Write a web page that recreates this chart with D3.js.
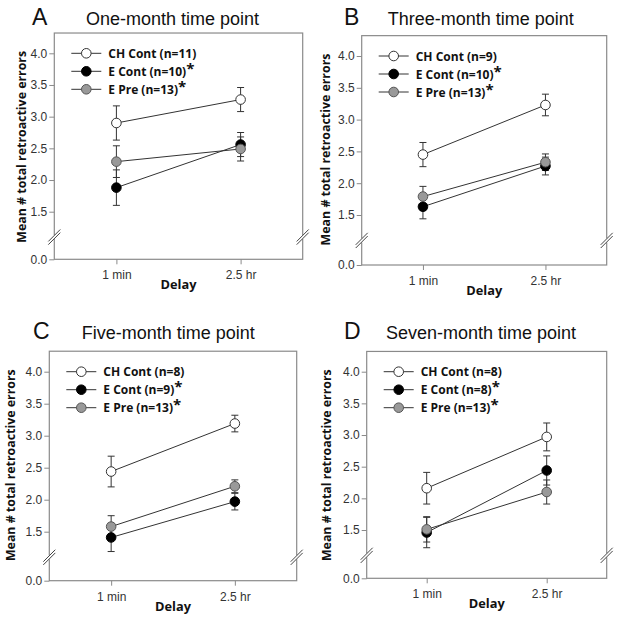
<!DOCTYPE html>
<html><head><meta charset="utf-8">
<script src="https://cdn.jsdelivr.net/npm/d3@7"></script>
<style>body{margin:0;background:#fff}svg{display:block}</style>
</head><body>
<script>
// ---------- data ----------
const panelLetters = ["A", "B", "C", "D"];
const panelTitles = ["One-month time point", "Three-month time point", "Five-month time point", "Seven-month time point"];
const delays = ["1 min", "2.5 hr"];
const groupNames = ["CH Cont", "E Cont", "E Pre"];
const groupStarred = [false, true, true];
const groupN = [[11, 10, 13], [9, 10, 13], [8, 9, 13], [8, 8, 13]];
const chContMean = [[2.90, 3.27], [2.45, 3.23], [2.44, 3.19], [2.16, 2.97]];
const chContErr  = [[0.27, 0.19], [0.19, 0.17], [0.24, 0.13], [0.25, 0.22]];
const eContMean  = [[1.88, 2.56], [1.63, 2.27], [1.41, 1.97], [1.46, 2.44]];
const eContErr   = [[0.28, 0.19], [0.19, 0.14], [0.22, 0.13], [0.24, 0.23]];
const ePreMean   = [[2.29, 2.49], [1.79, 2.33], [1.58, 2.21], [1.51, 2.10]];
const ePreErr    = [[0.25, 0.19], [0.16, 0.13], [0.17, 0.10], [0.20, 0.19]];
const yTicks = [0.0, 1.5, 2.0, 2.5, 3.0, 3.5, 4.0];
const yLabel = "Mean # total retroactive errors";
const xLabel = "Delay";

// ---------- layout / style ----------
const layouts = [
  {left: 54.3, right: 302.7, y40: 53.3, y15: 211.7, y0: 259.3, letterX: 32, titleX: 86, titleY: 25, ylabX: -33},
  {left: 361.7, right: 606.7, y40: 56, y15: 215, y0: 265, letterX: 344, titleX: 387.7, titleY: 25, ylabX: -36.5},
  {left: 49.3, right: 296.7, y40: 371.7, y15: 531.7, y0: 580.7, letterX: 33, titleX: 81.7, titleY: 339.3, ylabX: -39},
  {left: 366.7, right: 606.7, y40: 371.7, y15: 530, y0: 578.3, letterX: 344, titleX: 386, titleY: 339.3, ylabX: -40.5}
];
const groupStyle = [
  {fill: "#ffffff", stroke: "#333333"},
  {fill: "#000000", stroke: "#000000"},
  {fill: "#999999", stroke: "#555555"}
];
const frameColor = "#8a8a8a";
const boldFont = "'Open Sans', Lato, sans-serif";
const plainFont = "'Liberation Sans', Arial, sans-serif";

const svg = d3.select("body").append("svg").attr("width", 621).attr("height", 622);

// size a bold font so that a reference string has a given width
function fitSize(str, target) {
  const t = svg.append("text").attr("font-family", boldFont).attr("font-weight", "bold").attr("font-size", 20).text(str);
  const w = t.node().getComputedTextLength();
  t.remove();
  return 20 * target / w;
}

function draw() {
  const legendSize = fitSize("CH Cont (n=11)", 88);
  const yLabelSize = fitSize(yLabel, 192);
  const xLabelSize = fitSize(xLabel, 36);

  panelLetters.forEach((letter, p) => {
    const L = layouts[p];
    const ppu = (L.y15 - L.y40) / 2.5;
    const breakVal = 1.1;
    const topVal = 4.32;
    const y = d3.scaleLinear()
      .domain([0, breakVal, topVal])
      .range([L.y0, L.y15 + (1.5 - breakVal) * ppu, L.y40 - (topVal - 4.0) * ppu]);
    const x = d3.scalePoint().domain(delays).range([L.left, L.right]).padding(0.5);
    const g = svg.append("g");
    const yTop = y(topVal), yB = y(breakVal);

    // frame
    g.append("rect").attr("x", L.left).attr("y", yTop).attr("width", L.right - L.left).attr("height", L.y0 - yTop)
      .attr("fill", "none").attr("stroke", frameColor).attr("stroke-width", 1.2);

    // axes
    const yAxis = d3.axisLeft(y).tickValues(yTicks).tickSize(5).tickPadding(2).tickFormat(d3.format(".1f"));
    const ya = g.append("g").attr("transform", `translate(${L.left},0)`).call(yAxis);
    ya.select(".domain").remove();
    ya.selectAll("line").attr("stroke", frameColor);
    ya.selectAll("text").attr("font-family", plainFont).attr("font-size", 12).attr("fill", "#333");

    const xAxis = d3.axisBottom(x).tickSize(5).tickPadding(6.5);
    const xa = g.append("g").attr("transform", `translate(0,${L.y0})`).call(xAxis);
    xa.select(".domain").remove();
    xa.selectAll("line").attr("stroke", frameColor);
    xa.selectAll("text").attr("font-family", plainFont).attr("font-size", 12).attr("fill", "#333");

    // axis breaks
    [L.left, L.right].forEach(ax => {
      g.append("rect").attr("x", ax - 2).attr("y", yB - 2).attr("width", 4).attr("height", 4).attr("fill", "#fff");
      [-1.6, 1.6].forEach(o => {
        g.append("line").attr("x1", ax - 6).attr("y1", yB + 6 + o).attr("x2", ax + 6).attr("y2", yB - 6 + o)
          .attr("stroke", "#444").attr("stroke-width", 1);
      });
    });

    // labels
    g.append("text").attr("x", L.letterX).attr("y", L.titleY).text(letter)
      .attr("font-family", plainFont).attr("font-size", 23).attr("fill", "#111");
    g.append("text").attr("x", L.titleX).attr("y", L.titleY).text(panelTitles[p])
      .attr("font-family", plainFont).attr("font-size", 18).attr("fill", "#111");
    g.append("text").attr("x", (L.left + L.right) / 2).attr("y", L.y0 + 30).attr("text-anchor", "middle").text(xLabel)
      .attr("font-family", boldFont).attr("font-weight", "bold").attr("font-size", xLabelSize).attr("fill", "#111");
    const ly = L.y40 + 93.5;
    g.append("text").attr("transform", `translate(${L.left + L.ylabX + 5},${ly}) rotate(-90)`)
      .attr("text-anchor", "middle").text(yLabel)
      .attr("font-family", boldFont).attr("font-weight", "bold").attr("font-size", yLabelSize).attr("fill", "#111");

    // series
    const means = [chContMean[p], eContMean[p], ePreMean[p]];
    const errs = [chContErr[p], eContErr[p], ePreErr[p]];
    const line = d3.line().x((d, i) => x(delays[i])).y(d => y(d));
    means.forEach((m) => {
      g.append("path").attr("d", line(m)).attr("fill", "none").attr("stroke", "#333").attr("stroke-width", 1);
    });
    means.forEach((m, gi) => {
      m.forEach((v, i) => {
        const cx = x(delays[i]);
        const e = errs[gi][i];
        const eg = g.append("g").attr("stroke", "#333").attr("stroke-width", 1);
        eg.append("line").attr("x1", cx).attr("x2", cx).attr("y1", y(v - e)).attr("y2", y(v + e));
        eg.append("line").attr("x1", cx - 3.5).attr("x2", cx + 3.5).attr("y1", y(v - e)).attr("y2", y(v - e));
        eg.append("line").attr("x1", cx - 3.5).attr("x2", cx + 3.5).attr("y1", y(v + e)).attr("y2", y(v + e));
      });
    });
    means.forEach((m, gi) => {
      m.forEach((v, i) => {
        g.append("circle").attr("cx", x(delays[i])).attr("cy", y(v)).attr("r", 4.8)
          .attr("fill", groupStyle[gi].fill).attr("stroke", groupStyle[gi].stroke).attr("stroke-width", 1);
      });
    });

    // legend
    groupNames.forEach((name, gi) => {
      const ry = L.y40 + gi * 18;
      const lx = L.left + 17;
      g.append("line").attr("x1", lx).attr("x2", lx + 30).attr("y1", ry).attr("y2", ry).attr("stroke", "#333");
      g.append("circle").attr("cx", lx + 15).attr("cy", ry).attr("r", 4.8)
        .attr("fill", groupStyle[gi].fill).attr("stroke", groupStyle[gi].stroke);
      const t = g.append("text").attr("x", L.left + 54).attr("y", ry + 4.5)
        .attr("font-family", boldFont).attr("font-weight", "bold").attr("font-size", legendSize).attr("fill", "#111");
      t.append("tspan").text(`${name} (n=${groupN[p][gi]})`);
      if (groupStarred[gi]) t.append("tspan").attr("dy", -2).attr("font-size", legendSize * 1.25).text("*");
    });
  });
}

if (document.fonts && document.fonts.ready) document.fonts.ready.then(draw); else draw();
</script>
</body></html>
